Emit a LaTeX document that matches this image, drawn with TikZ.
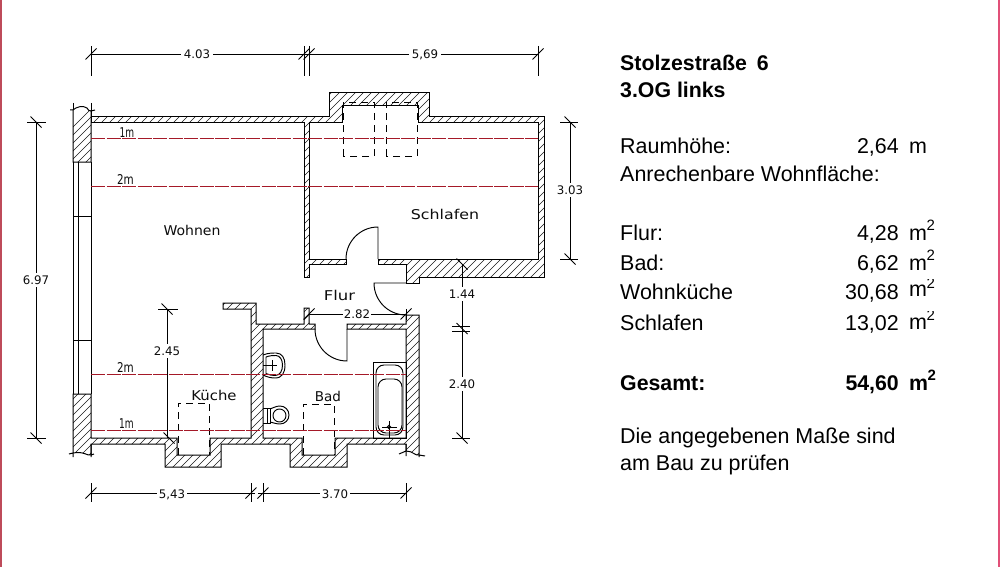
\documentclass[tikz,border=0pt]{standalone}
\usepackage{fontspec}
\setmainfont{Liberation Sans}
\newfontfamily\cadfont{DejaVu Sans}
\tikzset{
  x=1pt,y=-1pt,
  wallline/.style={line width=1pt,black,line join=miter},
  hatchline/.style={line width=0.55pt,black!90},
  thin line/.style={line width=0.95pt,black},
  dimline/.style={line width=0.95pt,black},
  redline/.style={line width=0.9pt,color={rgb,255:red,165;green,25;blue,40},dash pattern=on 14pt off 1.5pt},
  hiddenline/.style={line width=0.95pt,black,dash pattern=on 7pt off 5pt},
  dimtext/.style={font=\cadfont\fontsize{11.8}{12}\selectfont,fill=white,inner sep=1pt,text height=8.8pt,text depth=0pt,text=black!95},
  roomtext/.style={font=\cadfont\fontsize{13.5}{14}\selectfont,inner sep=0pt,text height=10pt,text depth=0pt,text=black!95},
  info/.style={font=\fontsize{21.45}{24}\selectfont,anchor=base west,inner sep=0pt},
  infonum/.style={font=\fontsize{21.45}{24}\selectfont,anchor=base east,inner sep=0pt},
  infobold/.style={font=\bfseries\fontsize{21.3}{24}\selectfont,anchor=base west,inner sep=0pt},
  infoboldnum/.style={font=\bfseries\fontsize{21.3}{24}\selectfont,anchor=base east,inner sep=0pt},
  supr/.style={font=\fontsize{15}{16}\selectfont,anchor=base west,inner sep=0pt},
  suprbold/.style={font=\bfseries\fontsize{15}{16}\selectfont,anchor=base west,inner sep=0pt},
}
\newcommand{\wallsA}{(91,117)--(329,117)--(329,93)--(429,93)--(429,117)--(544,117)--(544,277)--(419,277)--(419,283)--(406,283)--(406,264)--(378,264)--(378,259)--(538,259)--(538,122)--(418,122)--(418,106)--(342,106)--(342,122)--(309,122)--(309,259)--(346,259)--(346,264)--(309,264)--(309,277)--(304,277)--(304,122)--(91,122)--cycle}
\newcommand{\wallsB}{(73,110)..controls(76,107)and(83,105)..(87,108)..controls(88,110)and(89,111)..(91,111)--(91,162)--(73,162)--cycle}
\newcommand{\wallsC}{(223,303)--(256,303)--(256,324)--(304,324)--(304,308)--(309,308)--(309,324)--(315,324)--(315,329)--(263,329)--(263,438)--(302,438)--(302,455)--(335,455)--(335,438)--(406,438)--(406,329)--(347,329)--(347,324)--(406,324)--(406,315)--(419,315)--(419,455)..controls(415,456)and(413,451)..(406,451)--(406,444)--(347,444)--(347,467)--(290,467)--(290,444)--(221,444)--(221,467)--(165,467)--(165,444)--(91,444)--(91,455)..controls(87,456)and(84,451)..(73,453)--(73,394)--(91,394)--(91,438)--(177,438)--(177,455)--(210,455)--(210,438)--(251,438)--(251,309)--(223,309)--cycle}
\newcommand{\tickH}[2]{\draw[dimline] (#1-5.5,#2+5.5)--(#1+5.5,#2-5.5);}
\newcommand{\tickV}[2]{\draw[dimline] (#1-5.5,#2-5.5)--(#1+5.5,#2+5.5);}
\begin{document}
\begin{tikzpicture}
\useasboundingbox (0,0) rectangle (1000,567);
\fill[white] (0,0) rectangle (1000,567);
\fill[color={rgb,255:red,190;green,75;blue,90}] (0,0) rectangle (1.6,567);
\fill[color={rgb,255:red,225;green,80;blue,120}] (998.4,0) rectangle (1000,567);

% hatching
\begin{scope}
\clip \wallsA \wallsB \wallsC;
\foreach \k in {200,208,...,1040}{\draw[hatchline] (\k,0)--(0,\k);}
\end{scope}
\draw[wallline] \wallsA;
\draw[wallline] \wallsB;
\draw[wallline] \wallsC;

% wall line overruns at break lines
\draw[wallline] (73,103)--(73,110) (91,103)--(91,117);
\draw[wallline] (70,110)--(73,110) (91,111)--(95,110);
\draw[wallline] (73,453)--(73,457) (91,444)--(91,457) (69,454)--(73,453) (91,455)--(94,454);
\draw[wallline] (406,444)--(406,456) (419,455)--(419,457) (399,454)..controls(402,452)..(406,451) (419,455)--(425,456);

% window
\draw[wallline] (73,162)--(73,394) (91,162)--(91,394) (78,162)--(78,394);
\draw[wallline] (73,216)--(91,216) (73,340)--(91,340);

% doors
\draw[thin line] (378,259)--(378,227)..controls(360.3,227)and(346,241.3)..(346,259);
\draw[thin line] (406,283)--(374,283)..controls(374,300.7)and(388.3,315)..(406,315);
\draw[thin line] (347,329)--(347,361)..controls(329.3,361)and(315,346.7)..(315,329);

% flues (dashed)
\draw[hiddenline] (343,156)--(343,102)--(374,102)--(374,156)--cycle;
\draw[hiddenline] (386,156)--(386,102)--(417,102)--(417,156)--cycle;
\draw[hiddenline] (178,455)--(178,403)--(209,403)--(209,455);
\draw[hiddenline] (303,455)--(303,404)--(334,404)--(334,455);

% sink
\draw[thin line] (263,355)..controls(268,353)and(272,353)..(276,353)..controls(282,353)and(285,358)..(285,365)..controls(285,373)and(282,378)..(275,378)..controls(271,378)and(267,377)..(263,375);
\draw[thin line] (266,357)..controls(270,355.5)and(273,355.5)..(276,355.5)..controls(280,355.5)and(282.5,360)..(282.5,365)..controls(282.5,371)and(280,375.5)..(275,375.5)..controls(272,375.5)and(269,375)..(266,373.5)--cycle;
\draw[thin line] (263,365)--(277,365) (272,360)--(272,371);
% toilet
\draw[thin line] (263,408)--(270,408)--(270,423)--(263,423);
\draw[thin line] (267,408)--(267,423);
\draw[thin line] (270,409)..controls(273,408)and(276,406)..(280,406)..controls(285,406)and(289,410)..(289,415)..controls(289,420)and(285,424)..(280,424)..controls(276,424)and(273,422.5)..(270,422);
\draw[thin line] (279.5,415.5) circle[radius=6.5];
% bath
\draw[thin line] (373.5,362) rectangle (406,438);
\draw[thin line,rounded corners=8pt] (376,365) rectangle (403,435);
\draw[thin line,rounded corners=8pt] (378,379) rectangle (402,433);
\draw[thin line] (382,427)--(397,427) (389,421)--(389,438);
\draw[thin line] (389,427) circle[radius=1.6];

% red lines
\draw[redline] (91,138)--(538,138);
\draw[redline] (91,186)--(538,186);
\draw[redline] (91,374)--(406,374);
\draw[redline] (91,430)--(406,430);

% dimensions
\draw[dimline] (91,46)--(91,76) (304,46)--(304,76) (309,46)--(309,76) (538,46)--(538,76);
\draw[dimline] (91,54)--(310,54);
\draw[dimline] (304,54)--(538,54);
\tickH{91}{54}\tickH{304}{54}\tickH{309}{54}\tickH{538}{54}
\node[dimtext,inner xsep=3pt] (d403) at (197,54) {4.03};
\node[dimtext,inner xsep=3pt] (d569) at (425,54) {5,69};

\draw[dimline] (27,122)--(46,122) (27,438)--(46,438) (36,122)--(36,438);
\tickV{36}{122}\tickV{36}{438}
\node[dimtext,inner ysep=3pt] (d697) at (36,280) {6.97};

\draw[dimline] (560,122)--(578,122) (560,259)--(578,259) (570,122)--(570,259);
\tickV{570}{122}\tickV{570}{259}
\node[dimtext,inner ysep=3pt] (d303) at (570,190) {3.03};

\draw[dimline] (158,309)--(178,309) (167,309)--(167,438);
\tickV{167}{309}\tickV{169}{438}
\node[dimtext,inner ysep=3pt] (d245) at (167,351) {2.45};

\draw[dimline] (309,314)--(406,314) (406,309)--(406,320);
\tickH{309}{314}\tickH{406}{314}
\node[dimtext] (d282) at (357,314) {2.82};

\draw[dimline] (462,264)--(462,438);
\draw[dimline] (452,326)--(470,326) (452,331)--(470,331) (452,438)--(470,438);
\tickV{462}{264}\tickV{462}{328.5}\tickV{462}{438}
\node[dimtext,inner ysep=3pt] (d144) at (462,294) {1.44};
\node[dimtext,inner ysep=3pt] (d240) at (462,384) {2.40};

\draw[dimline] (91,483)--(91,502) (251,483)--(251,502) (263,483)--(263,502) (406,483)--(406,502);
\draw[dimline] (91,493)--(255,493) (258,493)--(406,493);
\tickH{91}{493}\tickH{251}{493}\tickH{263}{493}\tickH{406}{493}
\node[dimtext,inner xsep=2pt] (d543) at (172,494) {5,43};
\node[dimtext,inner xsep=2pt] (d370) at (335,494) {3.70};

% room labels
\node[roomtext] (r1m) at (127,132) {\scalebox{.67}[1]{1m}};
\node[roomtext] (r2m) at (125.5,179) {\scalebox{.77}[1]{2m}};
\node[roomtext] (r2mb) at (125.5,367) {\scalebox{.77}[1]{2m}};
\node[roomtext] (r1mb) at (126.5,423) {\scalebox{.67}[1]{1m}};
\node[roomtext] (wohnen) at (192,230.5) {\scalebox{1.04}[1]{Wohnen}};
\node[roomtext] (schlafen) at (445,214) {\scalebox{1.17}[1]{Schlafen}};
\node[roomtext] (flur) at (339.5,295.5) {\scalebox{1.22}[1]{Flur}};
\node[roomtext] (kueche) at (214,395.5) {\scalebox{1.1}[1]{Küche}};
\node[roomtext] (bad) at (328,396) {Bad};

% text column
\node[infobold] (t1) at (620,71) {Stolzestraße\hspace{4pt} 6};
\node[infobold] (t2) at (620,97.7) {3.OG links};
\node[info] (t3) at (620,153.3) {Raumhöhe:};
\node[infonum] (t3n) at (899,153.3) {2,64};
\node[info] (t3u) at (909,153.3) {m};
\node[info] (t4) at (620,181.7) {Anrechenbare Wohnfläche:};
\node[info] (t5) at (620,240) {Flur:};
\node[infonum] (t5n) at (899,240) {4,28};
\node[info] (t5u) at (909,240) {m};
\node[supr] (t5s) at (926.5,230) {2};
\node[info] (t6) at (620,270) {Bad:};
\node[infonum] (t6n) at (899,270) {6,62};
\node[info] (t6u) at (909,270) {m};
\node[supr] (t6s) at (926.5,260) {2};
\node[info] (t7) at (620,299.3) {Wohnküche};
\node[infonum] (t7n) at (899,299.3) {30,68};
\node[supr] (t7s) at (926.5,288) {2};
\fill[white] (920,270) rectangle (940,279);
\node[info] (t7u) at (909,296.7) {m};
\node[info] (t8) at (620,330.7) {Schlafen};
\node[infonum] (t8n) at (899,330.7) {13,02};
\node[supr] (t8s) at (926.5,320) {2};
\fill[white] (920,302) rectangle (940,311);
\node[info] (t8u) at (909,329) {m};
\node[infobold] (t9) at (620,390) {Gesamt:};
\node[infoboldnum] (t9n) at (899,390) {54,60};
\node[infobold] (t9u) at (909,390) {m};
\node[suprbold] (t9s) at (927.5,380) {2};
\node[info] (t10) at (620,443.3) {Die angegebenen Maße sind};
\node[info] (t11) at (620,470) {am Bau zu prüfen};
\end{tikzpicture}
\end{document}
